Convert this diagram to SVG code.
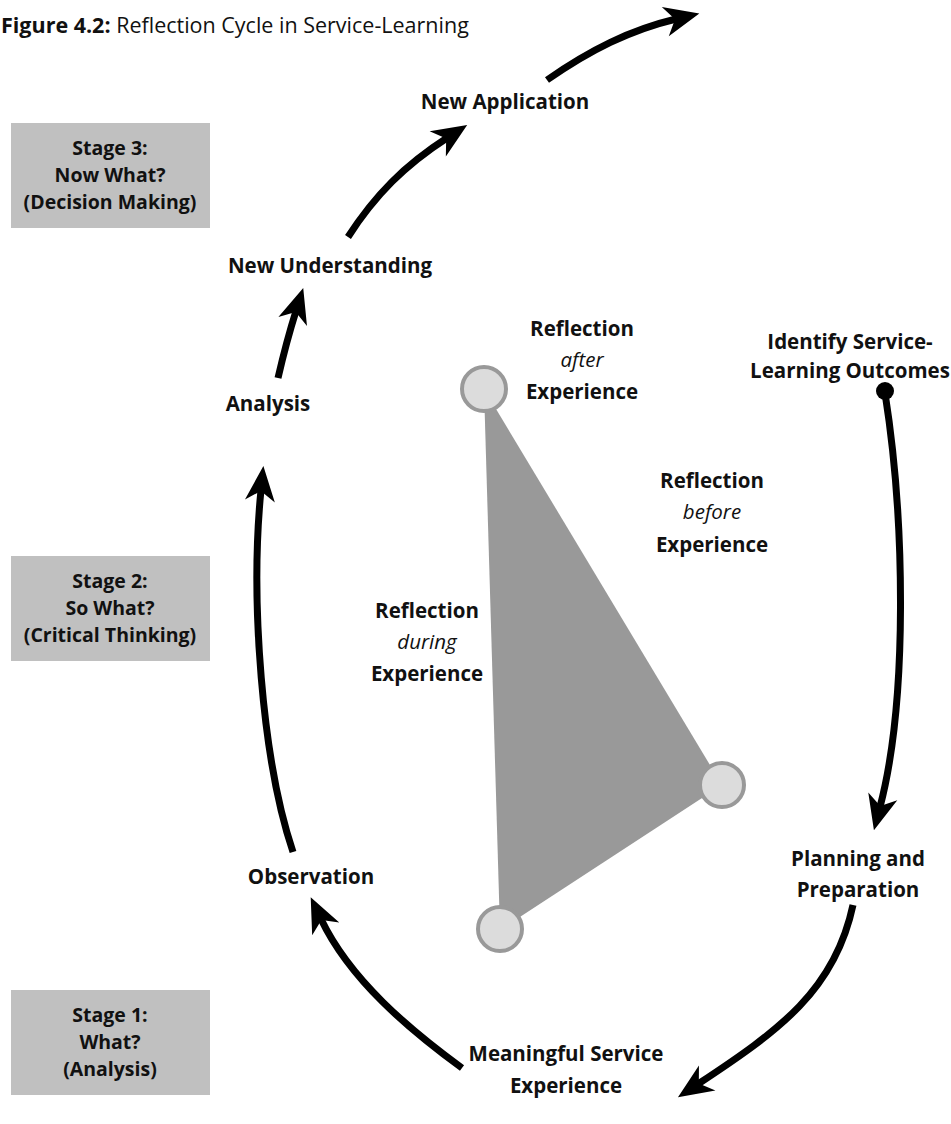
<svg xmlns="http://www.w3.org/2000/svg" width="951" height="1124" viewBox="0 0 951 1124">
  <style>
    text { font-family: "Open Sans", "Noto Sans", "Liberation Sans", sans-serif; fill: #111; }
    .lbl { font-size: 20.5px; font-weight: 700; text-anchor: middle; }
    .it { font-size: 20.5px; font-weight: 400; font-style: italic; text-anchor: middle; }
    .stage rect { fill: #c0c0c0; }
    .stage text { font-size: 19.5px; font-weight: 700; text-anchor: middle; }
    .arc { fill: none; stroke: #000; stroke-width: 7; stroke-linecap: butt; marker-end: url(#head); }
    .vertex { fill: #dcdcdc; stroke: #999; stroke-width: 4; }
  </style>
  <defs>
    <marker id="head" markerUnits="userSpaceOnUse" markerWidth="44" markerHeight="34" viewBox="0 -17 36 34" refX="11" refY="0" orient="auto">
      <path d="M0,-15 L35,0 L0,15 L10,0 Z" fill="#000"/>
    </marker>
  </defs>
  <rect width="951" height="1124" fill="#fff"/>

  <!-- title -->
  <text x="1" y="33" style="font-size:21.5px"><tspan font-weight="700">Figure 4.2:</tspan> Reflection Cycle in Service-Learning</text>

  <!-- stage boxes -->
  <g id="stage3" class="stage">
    <rect x="11" y="123" width="199" height="105"/>
    <text x="110" y="155">Stage 3:</text>
    <text x="110" y="182">Now What?</text>
    <text x="110" y="209">(Decision Making)</text>
  </g>
  <g id="stage2" class="stage">
    <rect x="11" y="556" width="199" height="105"/>
    <text x="110" y="588">Stage 2:</text>
    <text x="110" y="615">So What?</text>
    <text x="110" y="642">(Critical Thinking)</text>
  </g>
  <g id="stage1" class="stage">
    <rect x="11" y="990" width="199" height="105"/>
    <text x="110" y="1022">Stage 1:</text>
    <text x="110" y="1049">What?</text>
    <text x="110" y="1076">(Analysis)</text>
  </g>

  <!-- reflection triangle -->
  <g id="triangle">
    <polygon points="484,389 722,785 500,930" fill="#999"/>
  </g>
  <g id="after">
    <circle class="vertex" cx="484" cy="389" r="22"/>
    <text class="lbl" x="582" y="336">Reflection</text>
    <text class="it" x="582" y="367">after</text>
    <text class="lbl" x="582" y="399">Experience</text>
  </g>
  <g id="before">
    <circle class="vertex" cx="722" cy="785" r="22"/>
    <text class="lbl" x="712" y="488">Reflection</text>
    <text class="it" x="712" y="519">before</text>
    <text class="lbl" x="712" y="552">Experience</text>
  </g>
  <g id="during">
    <circle class="vertex" cx="500" cy="929" r="22"/>
    <text class="lbl" x="427" y="618">Reflection</text>
    <text class="it" x="427" y="649">during</text>
    <text class="lbl" x="427" y="681">Experience</text>
  </g>

  <!-- cycle labels -->
  <g id="outcomes">
    <text class="lbl" x="850" y="349">Identify Service-</text>
    <text class="lbl" x="850" y="378">Learning Outcomes</text>
    <circle cx="885" cy="391" r="9" fill="#000"/>
  </g>
  <g id="planning">
    <text class="lbl" x="858" y="866">Planning and</text>
    <text class="lbl" x="858" y="897">Preparation</text>
  </g>
  <g id="experience">
    <text class="lbl" x="566" y="1061">Meaningful Service</text>
    <text class="lbl" x="566" y="1093">Experience</text>
  </g>
  <g id="observation">
    <text class="lbl" x="311" y="884">Observation</text>
  </g>
  <g id="analysis">
    <text class="lbl" x="268" y="411">Analysis</text>
  </g>
  <g id="understanding">
    <text class="lbl" x="330" y="273">New Understanding</text>
  </g>
  <g id="application">
    <text class="lbl" x="505" y="109">New Application</text>
  </g>

  <!-- connectors -->
  <g id="connectors">
    <path class="arc" d="M885,393 C905,520 908,700 880,807"/>
    <path class="arc" d="M853,905 C835,990 780,1030 698,1084"/>
    <path class="arc" d="M462,1068 C410,1030 350,980 321,919"/>
    <path class="arc" d="M293,852 C262,760 250,600 261,490"/>
    <path class="arc" d="M278,378 C284,352 290,330 296,311"/>
    <path class="arc" d="M348,237 C375,195 405,165 447,138"/>
    <path class="arc" d="M547,80 C590,50 630,30 676,19"/>
  </g>
</svg>
